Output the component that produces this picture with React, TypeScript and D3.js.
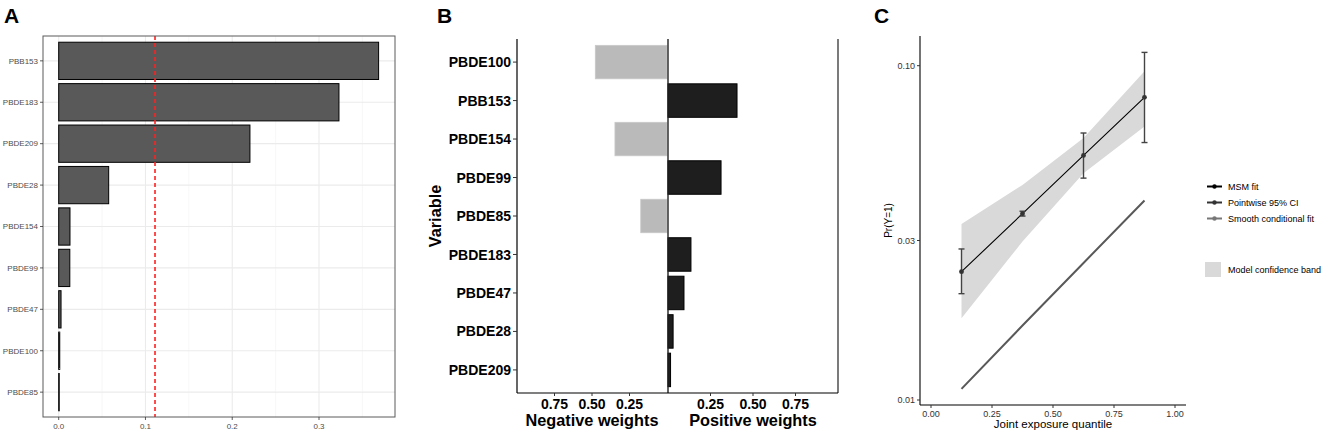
import React from "react";
import * as d3 from "d3";

// ---------- Panel A data ----------
const aVars = ["PBB153", "PBDE183", "PBDE209", "PBDE28", "PBDE154", "PBDE99", "PBDE47", "PBDE100", "PBDE85"];
const aImportance = [0.3687, 0.323, 0.2204, 0.0576, 0.013, 0.0128, 0.0027, 0.0012, 0.0006];
const aThreshold = 0.111;
const aMajorTicks = [0, 0.1, 0.2, 0.3];
const aMinorTicks = [0.05, 0.15, 0.25, 0.35];
const aTickLabels = ["0.0", "0.1", "0.2", "0.3"];

// ---------- Panel B data ----------
const bVars = ["PBDE100", "PBB153", "PBDE154", "PBDE99", "PBDE85", "PBDE183", "PBDE47", "PBDE28", "PBDE209"];
const bWeights = [-0.478, 0.406, -0.347, 0.312, -0.175, 0.135, 0.094, 0.03, 0.015];
const bTicks = [0.25, 0.5, 0.75];
const bTickLabels = ["0.25", "0.50", "0.75"];

// ---------- Panel C data ----------
const cQuantiles = [0.125, 0.375, 0.625, 0.875];
const cMsm = [0.0242, 0.0361, 0.0539, 0.0804];
const cCiLow = [0.0208, 0.0355, 0.0461, 0.0589];
const cCiHigh = [0.0283, 0.0367, 0.0629, 0.1096];
const cBandLow = [0.01756, 0.0298, 0.0477, 0.0658];
const cBandHigh = [0.0336, 0.044, 0.0608, 0.0962];
const cSmooth = [0.0108, 0.0167, 0.0257, 0.0395];
const cXTicks = [0, 0.25, 0.5, 0.75, 1];
const cXTickLabels = ["0.00", "0.25", "0.50", "0.75", "1.00"];
const cYTicks = [0.01, 0.03, 0.1];
const cYTickLabels = ["0.01", "0.03", "0.10"];
const cLegend = ["MSM fit", "Pointwise 95% CI", "Smooth conditional fit"];
const cLegendColors = ["#000000", "#333333", "#777777"];
const cBandLabel = "Model confidence band";

const FONT = "'Liberation Sans', Arial, Helvetica, sans-serif";

function PanelA() {
  const left = 43, right = 395, top = 36, bottom = 417;
  const x = d3.scaleLinear().domain([0, 0.3]).range([58.7, 319]);
  const y = d3.scalePoint<string>().domain(aVars).range([top, bottom]).padding(0.6);
  const bh = y.step() * 0.9;
  return (
    <g>
      <text x={4} y={23} fontSize={21} fontWeight="bold" fontFamily={FONT}>A</text>
      <rect x={left} y={top} width={right - left} height={bottom - top} fill="#fff" />
      {aMinorTicks.map((t) => (
        <line key={"mi" + t} x1={x(t)} x2={x(t)} y1={top} y2={bottom} stroke="#f2f2f2" strokeWidth={0.6} />
      ))}
      {aMajorTicks.map((t) => (
        <line key={"ma" + t} x1={x(t)} x2={x(t)} y1={top} y2={bottom} stroke="#ebebeb" strokeWidth={1.1} />
      ))}
      {aVars.map((v) => (
        <line key={"hg" + v} x1={left} x2={right} y1={y(v)!} y2={y(v)!} stroke="#ebebeb" strokeWidth={1.1} />
      ))}
      {aVars.map((v, i) => (
        <rect key={"b" + v} x={x(0)} y={y(v)! - bh / 2} width={Math.max(0.5, x(aImportance[i]) - x(0))} height={bh}
          fill="#595959" stroke="#000" strokeWidth={1} />
      ))}
      <line x1={x(aThreshold)} x2={x(aThreshold)} y1={top} y2={bottom} stroke="#ff2020" strokeWidth={1.6} strokeDasharray="4,3" />
      <rect x={left} y={top} width={right - left} height={bottom - top} fill="none" stroke="#5a5a5a" strokeWidth={1} />
      {aVars.map((v) => (
        <g key={"yl" + v}>
          <line x1={left - 3} x2={left} y1={y(v)!} y2={y(v)!} stroke="#333" strokeWidth={0.8} />
          <text x={left - 5} y={y(v)!} dy="0.35em" textAnchor="end" fontSize={8} fill="#4d4d4d" fontFamily={FONT}>{v}</text>
        </g>
      ))}
      {aMajorTicks.map((t, i) => (
        <g key={"xl" + t}>
          <line x1={x(t)} x2={x(t)} y1={bottom} y2={bottom + 3} stroke="#333" strokeWidth={0.8} />
          <text x={x(t)} y={bottom + 12} textAnchor="middle" fontSize={8} fill="#4d4d4d" fontFamily={FONT}>{aTickLabels[i]}</text>
        </g>
      ))}
    </g>
  );
}

function PanelB() {
  const top = 39, bottom = 393, leftX = 517, mid = 668, rightX = 838;
  const xNeg = d3.scaleLinear().domain([0, 1]).range([667, leftX]);
  const xPos = d3.scaleLinear().domain([0, 1]).range([668, rightX]);
  const y = d3.scalePoint<string>().domain(bVars).range([top, bottom]).padding(0.6);
  const bh = y.step() * 0.87;
  return (
    <g fontFamily={FONT}>
      <text x={437} y={23} fontSize={21} fontWeight="bold">B</text>
      {bVars.map((v, i) => {
        const w = bWeights[i];
        if (w < 0) {
          return <rect key={v} x={xNeg(-w)} y={y(v)! - bh / 2} width={xNeg(0) - xNeg(-w)} height={bh} fill="#bababa" stroke="#c8c8c8" strokeWidth={0.8} />;
        }
        return <rect key={v} x={xPos(0)} y={y(v)! - bh / 2} width={Math.max(1.5, xPos(w) - xPos(0))} height={bh} fill="#1e1e1e" stroke="#000" strokeWidth={1} />;
      })}
      <line x1={leftX} x2={leftX} y1={top} y2={bottom} stroke="#000" strokeWidth={1.2} />
      <line x1={mid} x2={mid} y1={top} y2={bottom} stroke="#222" strokeWidth={1.4} />
      <line x1={rightX} x2={rightX} y1={top} y2={bottom} stroke="#222" strokeWidth={1.2} />
      <line x1={leftX} x2={rightX} y1={bottom} y2={bottom} stroke="#000" strokeWidth={1.2} />
      {bVars.map((v) => (
        <g key={"yl" + v}>
          <line x1={leftX - 4} x2={leftX} y1={y(v)!} y2={y(v)!} stroke="#333" strokeWidth={1} />
          <text x={leftX - 6} y={y(v)!} dy="0.36em" textAnchor="end" fontSize={14} fontWeight="bold" fill="#000">{v}</text>
        </g>
      ))}
      {bTicks.map((t, i) => (
        <g key={"tn" + t}>
          <line x1={xNeg(t)} x2={xNeg(t)} y1={bottom} y2={bottom + 3} stroke="#333" />
          <text x={xNeg(t)} y={bottom + 16} textAnchor="middle" fontSize={14} fontWeight="bold">{bTickLabels[i]}</text>
        </g>
      ))}
      {bTicks.map((t, i) => (
        <g key={"tp" + t}>
          <line x1={xPos(t)} x2={xPos(t)} y1={bottom} y2={bottom + 3} stroke="#333" />
          <text x={xPos(t)} y={bottom + 16} textAnchor="middle" fontSize={14} fontWeight="bold">{bTickLabels[i]}</text>
        </g>
      ))}
      <text x={592} y={426} textAnchor="middle" fontSize={16.3} fontWeight="bold">Negative weights</text>
      <text x={753} y={426} textAnchor="middle" fontSize={16.3} fontWeight="bold">Positive weights</text>
      <text transform={`translate(441,${(top + bottom) / 2}) rotate(-90)`} textAnchor="middle" fontSize={16.3} fontWeight="bold">Variable</text>
    </g>
  );
}

function PanelC() {
  const x = d3.scaleLinear().domain([0, 1]).range([931, 1175]);
  const y = d3.scaleLog().domain([0.01, 0.1]).range([400, 65.7]);
  const axTop = 36, axBottom = 405, axLeft = 920, axRight = 1186;
  const area = d3.area<number>()
    .x((_, i) => x(cQuantiles[i]))
    .y0((_, i) => y(cBandLow[i]))
    .y1((_, i) => y(cBandHigh[i]));
  const line = d3.line<number>().x((_, i) => x(cQuantiles[i])).y((d) => y(d));
  const legX = 1207, legY = [186.5, 202.5, 218.5];
  return (
    <g fontFamily={FONT}>
      <text x={874} y={23} fontSize={21} fontWeight="bold">C</text>
      <path d={area(cQuantiles) || ""} fill="#d9d9d9" />
      <path d={line(cSmooth) || ""} fill="none" stroke="#595959" strokeWidth={2} />
      <path d={line(cMsm) || ""} fill="none" stroke="#000" strokeWidth={1.1} />
      {cQuantiles.map((q, i) => (
        <g key={"e" + q} stroke="#444" strokeWidth={1.4}>
          <line x1={x(q)} x2={x(q)} y1={y(cCiLow[i])} y2={y(cCiHigh[i])} />
          <line x1={x(q) - 3} x2={x(q) + 3} y1={y(cCiLow[i])} y2={y(cCiLow[i])} />
          <line x1={x(q) - 3} x2={x(q) + 3} y1={y(cCiHigh[i])} y2={y(cCiHigh[i])} />
        </g>
      ))}
      {cQuantiles.map((q, i) => (
        <circle key={"p" + q} cx={x(q)} cy={y(cMsm[i])} r={2.4} fill="#333" />
      ))}
      <line x1={axLeft} x2={axLeft} y1={axTop} y2={axBottom} stroke="#000" strokeWidth={1.1} />
      <line x1={axLeft} x2={axRight} y1={axBottom} y2={axBottom} stroke="#000" strokeWidth={1.1} />
      {cYTicks.map((t, i) => (
        <g key={"yt" + t}>
          <line x1={axLeft - 3} x2={axLeft} y1={y(t)} y2={y(t)} stroke="#333" />
          <text x={axLeft - 5} y={y(t)} dy="0.35em" textAnchor="end" fontSize={9} fill="#333">{cYTickLabels[i]}</text>
        </g>
      ))}
      {cXTicks.map((t, i) => (
        <g key={"xt" + t}>
          <line x1={x(t)} x2={x(t)} y1={axBottom} y2={axBottom + 3} stroke="#333" />
          <text x={x(t)} y={axBottom + 12} textAnchor="middle" fontSize={9} fill="#333">{cXTickLabels[i]}</text>
        </g>
      ))}
      <text x={1053} y={428} textAnchor="middle" fontSize={11.5} fill="#000">Joint exposure quantile</text>
      <text transform={`translate(892,${(axTop + axBottom) / 2}) rotate(-90)`} textAnchor="middle" fontSize={10} fill="#000">Pr(Y=1)</text>
      {cLegend.map((lab, i) => (
        <g key={lab}>
          <line x1={legX} x2={legX + 15} y1={legY[i]} y2={legY[i]} stroke={cLegendColors[i]} strokeWidth={2} />
          <circle cx={legX + 7.5} cy={legY[i]} r={2.2} fill={cLegendColors[i]} />
          <text x={legX + 21} y={legY[i]} dy="0.35em" fontSize={9} fill="#000">{lab}</text>
        </g>
      ))}
      <rect x={1205} y={262} width={16} height={15} fill="#d9d9d9" />
      <text x={legX + 21} y={270} dy="0.35em" fontSize={9} fill="#000">{cBandLabel}</text>
    </g>
  );
}

export default function App() {
  return (
    <svg width={1325} height={432} style={{ position: "absolute", left: 0, top: 0, background: "#fff" }}>
      <rect width={1325} height={432} fill="#fff" />
      <PanelA />
      <PanelB />
      <PanelC />
    </svg>
  );
}
